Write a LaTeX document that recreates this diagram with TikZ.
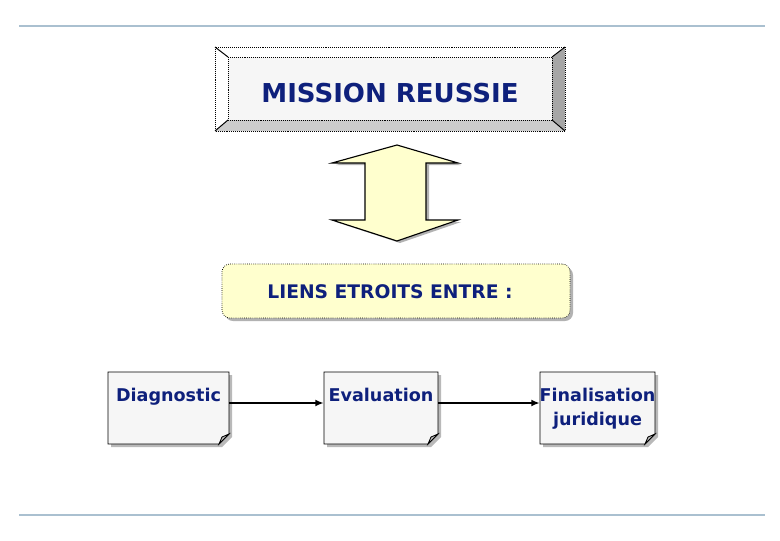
\documentclass[tikz,border=0pt]{standalone}
\usepackage{fontspec}
\setmainfont{DejaVu Sans}
\usetikzlibrary{arrows.meta}
\definecolor{navy}{RGB}{14,32,124}
\definecolor{paleyellow}{RGB}{255,255,206}
\definecolor{paper}{RGB}{246,246,246}
\definecolor{rulecol}{RGB}{170,192,208}
\begin{document}
\begin{tikzpicture}[x=0.025cm,y=-0.025cm,
    title/.style={font=\bfseries\fontsize{18.5}{22}\selectfont, text=navy, inner sep=0pt},
    subtitle/.style={font=\bfseries\fontsize{13.3}{16}\selectfont, text=navy, inner sep=0pt},
    doctext/.style={font=\bfseries\fontsize{12.5}{17.5}\selectfont, text=navy, align=center, inner sep=0pt},
    docbox/.style={minimum height=1.8cm, inner sep=0pt},
    link/.style={-{Latex[length=6pt,width=5pt]}, line width=1.3pt}]
    \useasboundingbox (0,0) rectangle (780,540);
    % rules
        \draw[rulecol, line width=0.8pt] (19,26) -- (765,26);
        \draw[rulecol, line width=0.8pt] (19,515) -- (765,515);
    % button
        \fill[white] (215,47) rectangle (565,131);
        \fill[gray!40] (215,131) -- (565,131) -- (552,120) -- (228,120) -- cycle;
        \fill[gray!70] (565,47) -- (565,131) -- (552,120) -- (552,57) -- cycle;
        \fill[paper] (228,57) rectangle (552,120);
        \draw[densely dotted, line width=0.4pt] (215,47) rectangle (565,131);
        \draw[densely dotted, line width=0.4pt] (228,57) rectangle (552,120);
        \foreach \xa/\ya/\xb/\yb in {215/47/228/57,565/47/552/57,215/131/228/120,565/131/552/120}{
            \draw[line width=0.7pt] (\xa,\ya) -- (\xb,\yb);
        }
        \node[title] (mission) at (390,93) {MISSION REUSSIE};
    % double arrow
        \fill[gray!60] (399,147) -- (461,165) -- (429,165) -- (429,222) -- (461,222) -- (400,243)
            -- (336,222) -- (368,222) -- (368,165) -- (336,165) -- cycle;
        \draw[fill=paleyellow, line width=0.8pt] (397,145) -- (458,163) -- (426,163) -- (426,220) -- (458,220)
            -- (397,241) -- (332,220) -- (365,220) -- (365,163) -- (332,163) -- cycle;
    % links box
        \fill[gray!60, rounded corners=0.2cm] (225,267) rectangle (573,321);
        \node[draw, densely dotted, line width=0.5pt, fill=paleyellow, rounded corners=0.2cm,
            minimum width=8.7cm, minimum height=1.35cm] (liens) at (396,291) {};
        \node[subtitle] (liens-txt) at (390,292) {LIENS ETROITS ENTRE :};
    % documents
        \foreach \n/\cx/\w/\txt in {diag/168.5/121/Diagnostic,eval/381/114/Evaluation,final/597.5/115/{Finalisation\\juridique}}{
            \pgfmathsetmacro\l{\cx-\w/2}
            \pgfmathsetmacro\r{\cx+\w/2}
            \fill[gray!55] (\l+3,375) -- (\r+3,375) -- (\r+3,437) -- (\r-7,447) -- (\l+3,447) -- cycle;
            \draw[fill=paper, line width=0.6pt] (\l,372) -- (\r,372) -- (\r,434) -- (\r-10,444) -- (\l,444) -- cycle;
            \draw[fill=gray!50, line width=0.6pt] (\r,434) -- (\r-7,437) -- (\r-10,444) -- cycle;
            \node[docbox, minimum width=\w*0.025cm] (\n) at (\cx,408) {};
            \node[doctext, anchor=north] (\n-txt) at (\cx,387.5) {\txt};
        }
        \draw[link] ([yshift=0.125cm]diag.east) -- ([yshift=0.125cm]eval.west);
        \draw[link] ([yshift=0.125cm]eval.east) -- ([yshift=0.125cm]final.west);
\end{tikzpicture}
\end{document}
